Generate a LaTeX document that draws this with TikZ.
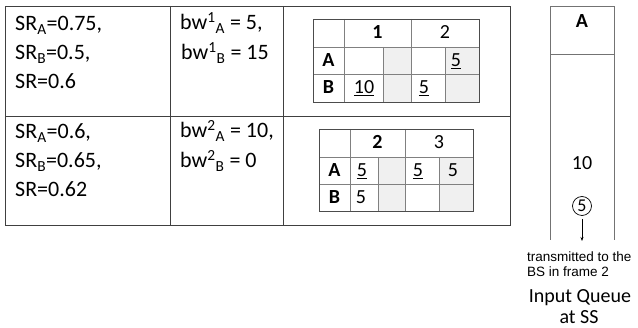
\documentclass[tikz,border=0pt]{standalone}
\usepackage{fontspec}
\setmainfont{Carlito}
\newfontfamily\arialf{Liberation Sans}
\usetikzlibrary{arrows.meta}
\begin{document}
\begin{tikzpicture}[x=1pt,y=-1pt,
  tbl/.style={draw=black!75,line width=0.9pt},
  grid/.style={draw=black!50,line width=0.7pt},
  border/.style={draw=black!70,line width=0.8pt},
  shade/.style={fill=black!6,draw=none},
  txt/.style={font=\fontsize{22}{25}\selectfont,inner sep=0pt,anchor=base west},
  ctxt/.style={font=\fontsize{20}{24}\selectfont,inner sep=0pt,anchor=base},
  btxt/.style={font=\bfseries\fontsize{20}{24}\selectfont,inner sep=0pt,anchor=base},
  queue/.style={draw=black!55,line width=0.8pt},
  small/.style={font=\arialf\fontsize{13.5}{15}\selectfont,inner sep=0pt,anchor=base west},
  big/.style={font=\fontsize{20}{19}\selectfont,inner sep=0pt,anchor=base}]
\useasboundingbox (0,0) rectangle (638,328);

% outer table
\draw[tbl] (5,6) rectangle (510,225);
\draw[tbl] (5,116) -- (510,116);
\draw[tbl] (170,6) -- (170,225);
\draw[tbl] (283,6) -- (283,225);

% row 1 texts
\node[txt] (sra1) at (15,31) {SR\textsubscript{A}=0.75,};
\node[txt] (srb1) at (15,60) {SR\textsubscript{B}=0.5,};
\node[txt] (sr1)  at (15,89) {SR=0.6};
\node[txt] (bwa1) at (180,30) {bw\textsuperscript{1}\textsubscript{A} = 5,};
\node[txt] (bwb1) at (181,60) {bw\textsuperscript{1}\textsubscript{B} = 15};

% row 2 texts
\node[txt] (sra2) at (15,139) {SR\textsubscript{A}=0.6,};
\node[txt] (srb2) at (15,168) {SR\textsubscript{B}=0.65,};
\node[txt] (sr2)  at (15,197) {SR=0.62};
\node[txt] (bwa2) at (180,138) {bw\textsuperscript{2}\textsubscript{A} = 10,};
\node[txt] (bwb2) at (180,168) {bw\textsuperscript{2}\textsubscript{B} = 0};

% inner table 1
\fill[shade] (383,47) rectangle (411,102);
\fill[shade] (445,47) rectangle (479,102);
\draw[grid] (313,47) -- (479,47);
\draw[grid] (313,74) -- (479,74);
\draw[grid] (344,19) -- (344,102);
\draw[grid] (411,19) -- (411,102);
\draw[grid] (383,47) -- (383,102);
\draw[grid] (445,47) -- (445,102);
\draw[border] (313,19) rectangle (479,102);
\node[btxt] (t1h1) at (377.5,39) {1};
\node[ctxt] (t1h2) at (445,39) {2};
\node[btxt] (t1a) at (328.5,67) {A};
\node[btxt] (t1b) at (328.5,94) {B};
\node[ctxt] (t1a4) at (456,67) {\underline{5}};
\node[ctxt] (t1b1) at (364,94) {\underline{10}};
\node[ctxt] (t1b3) at (424,94) {\underline{5}};

% inner table 2
\fill[shade] (378,157) rectangle (405,211);
\fill[shade] (439,157) rectangle (473,211);
\draw[grid] (319,157) -- (473,157);
\draw[grid] (319,184) -- (473,184);
\draw[grid] (350,129) -- (350,211);
\draw[grid] (405,129) -- (405,211);
\draw[grid] (378,157) -- (378,211);
\draw[grid] (439,157) -- (439,211);
\draw[border] (319,129) rectangle (473,211);
\node[btxt] (t2h1) at (377.5,149) {2};
\node[ctxt] (t2h2) at (439,149) {3};
\node[btxt] (t2a) at (334.5,177) {A};
\node[btxt] (t2b) at (334.5,204) {B};
\node[ctxt] (t2a1) at (362,177) {\underline{5}};
\node[ctxt] (t2a3) at (418,177) {\underline{5}};
\node[ctxt] (t2a4) at (453,177) {5};
\node[ctxt] (t2b1) at (361,204) {5};

% input queue
\draw[queue] (550,240) -- (550,6) -- (614,6) -- (614,240);
\draw[queue] (550,54) -- (614,54);
\node[btxt] (qa) at (582,28) {A};
\node[ctxt] (q10) at (582,170) {10};
\node[draw=black,line width=0.7pt,circle,minimum size=19pt,inner sep=0pt,
      font=\fontsize{18}{20}\selectfont] (q5) at (582,206) {5};
\coordinate (qout) at (582,241);
\draw[-{Stealth[length=4pt,width=3pt]},line width=0.8pt,shorten <=3pt] (q5) -- (qout);
\node[small] (tx1) at (527,262) {transmitted to the};
\node[small] (tx2) at (527,277) {BS in frame 2};
\node[big] (iq1) at (580,303) {Input Queue};
\node[big] (iq2) at (579,324) {at SS};
\end{tikzpicture}
\end{document}
